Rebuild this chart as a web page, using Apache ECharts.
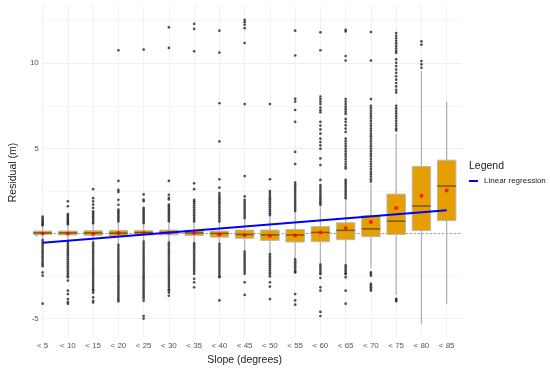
<!DOCTYPE html>
<html>
<head>
<meta charset="utf-8">
<script src="https://cdn.jsdelivr.net/npm/echarts@6/dist/echarts.min.js"></script>
<style>html,body{margin:0;padding:0;background:#fff;}#chart{width:550px;height:371px;}</style>
</head>
<body>
<div id="chart"></div>
<script>
const categories = ['< 5','< 10','< 15','< 20','< 25','< 30','< 35','< 40','< 45','< 50','< 55','< 60','< 65','< 70','< 75','< 80','< 85'];
const whiskerLow = [-0.45,-0.52,-0.6,-0.74,-0.56,-0.6,-0.68,-0.68,-1.12,-1.3,-1.6,-1.92,-1.96,-2.16,-3.76,-5.47,-4.27];
const q1 = [-0.17,-0.2,-0.22,-0.26,-0.19,-0.19,-0.23,-0.33,-0.4,-0.52,-0.62,-0.6,-0.48,-0.3,-0.17,0.06,0.65];
const median = [-0.08,-0.08,-0.08,-0.09,-0.06,-0.05,-0.08,-0.11,-0.17,-0.2,-0.2,-0.05,0.07,0.16,0.62,1.51,2.7];
const q3 = [0.03,0.03,0.05,0.07,0.06,0.09,0.07,0.03,0.09,0.09,0.12,0.3,0.52,0.94,2.22,3.86,4.23];
const whiskerHigh = [0.33,0.4,0.45,0.55,0.43,0.5,0.52,0.55,0.75,0.95,1.18,1.55,1.95,2.8,5.8,9.5,7.67];
const means = [-0.11,-0.11,-0.13,-0.09,-0.09,-0.07,-0.09,-0.17,-0.2,-0.25,-0.23,-0.05,0.2,0.57,1.4,2.12,2.43];

const out5 = [0.88,0.78,0.68,0.6,0.52,0.44,0.37,-0.5,-0.62,-0.74,-0.86,-0.98,-1.1,-1.22,-1.34,-1.46,-1.58,-1.7,-1.82,-1.93,-2.05,-2.42,-2.61,-4.27];
const out10 = [1.79,1.5,1.04,0.95,0.86,0.77,0.68,0.6,0.52,0.44,-0.56,-0.68,-0.8,-0.92,-1.04,-1.16,-1.28,-1.4,-1.52,-1.64,-1.76,-1.88,-2.0,-2.12,-2.24,-2.36,-2.48,-2.6,-2.7,-2.9,-3.5,-3.7,-4.0,-4.17,-4.27];
const out15 = [2.51,1.98,1.79,1.6,1.4,1.2,1.1,1.0,0.9,0.8,0.7,0.6,0.5,-0.65,-0.77,-0.89,-1.01,-1.13,-1.25,-1.37,-1.49,-1.61,-1.73,-1.85,-1.97,-2.09,-2.21,-2.33,-2.45,-2.57,-2.69,-2.81,-2.93,-3.05,-3.17,-3.29,-3.41,-3.5,-3.62,-3.9,-4.1,-4.2];
const out20 = [10.74,3.0,2.47,2.35,1.88,1.59,1.3,1.2,1.1,1.0,0.9,0.8,0.7,0.6,-0.78,-0.9,-1.02,-1.14,-1.26,-1.38,-1.5,-1.62,-1.74,-1.86,-1.98,-2.1,-2.22,-2.34,-2.46,-2.58,-2.7,-2.82,-2.94,-3.06,-3.18,-3.3,-3.42,-3.54,-3.66,-3.78,-3.9,-4.02,-4.12];
const out25 = [10.78,2.2,1.9,1.8,1.4,1.3,1.2,1.1,1.0,0.9,0.8,0.7,0.6,0.5,-0.6,-0.72,-0.84,-0.96,-1.08,-1.2,-1.32,-1.44,-1.56,-1.68,-1.8,-1.92,-2.04,-2.16,-2.28,-2.4,-2.52,-2.64,-2.76,-2.88,-3.0,-3.12,-3.24,-3.36,-3.48,-3.6,-3.72,-3.84,-3.96,-4.1,-5.0,-5.15];
const out30 = [12.1,10.88,3.0,2.18,2.0,1.9,1.6,1.5,1.4,1.3,1.2,1.1,1.0,0.9,0.8,0.7,0.6,-0.65,-0.77,-0.89,-1.01,-1.13,-1.25,-1.37,-1.49,-1.61,-1.73,-1.85,-1.97,-2.09,-2.21,-2.33,-2.45,-2.57,-2.69,-2.81,-2.93,-3.05,-3.17,-3.29,-3.41,-3.5,-3.62,-3.8];
const out35 = [12.3,12.0,10.68,2.86,2.51,1.88,1.79,1.68,1.56,1.44,1.32,1.2,1.08,0.96,0.84,0.72,0.6,-0.7,-0.82,-0.94,-1.06,-1.18,-1.3,-1.42,-1.54,-1.66,-1.78,-1.9,-2.02,-2.14,-2.26,-2.38,-2.5,-2.8,-3.0,-3.3];
const out40 = [11.9,10.6,7.6,5.34,3.1,2.6,2.28,2.16,2.04,1.92,1.8,1.68,1.56,1.44,1.32,1.2,1.08,0.96,0.84,0.72,0.6,-0.72,-0.84,-0.96,-1.08,-1.2,-1.32,-1.44,-1.56,-1.68,-1.8,-1.92,-2.04,-2.16,-2.28,-2.4,-2.52,-2.64,-2.7,-4.08];
const out45 = [12.54,12.4,12.25,12.05,11.17,7.55,3.29,2.08,1.88,1.76,1.64,1.52,1.4,1.28,1.16,1.04,0.92,0.8,-1.18,-1.3,-1.42,-1.54,-1.66,-1.78,-1.9,-2.02,-2.14,-2.26,-2.38,-2.5,-3.0,-3.75];
const out50 = [7.55,3.1,2.4,2.28,2.16,2.04,1.92,1.8,1.68,1.56,1.44,1.32,1.2,1.08,0.98,-1.34,-1.46,-1.58,-1.7,-1.82,-1.94,-2.06,-2.18,-2.3,-2.42,-2.54,-2.66,-3.0,-3.26,-4.0];
const out55 = [11.9,10.43,7.86,7.7,7.2,6.5,4.72,4.0,2.9,2.78,2.66,2.54,2.42,2.3,2.18,2.06,1.94,1.82,1.7,1.58,1.46,1.34,1.22,-1.64,-1.76,-1.88,-2.0,-2.12,-2.24,-2.36,-2.42,-3.7,-4.08,-4.33];
const out60 = [11.8,10.74,8.0,7.85,7.7,7.55,7.35,7.2,7.07,6.5,6.28,6.05,5.8,5.5,5.3,5.1,4.9,4.33,3.94,3.06,2.76,2.64,2.52,2.4,2.28,2.16,2.04,1.92,1.8,1.68,1.59,-1.96,-2.08,-2.2,-2.32,-2.44,-2.52,-2.75,-3.3,-3.5,-4.76,-5.0];
const out65 = [11.95,11.85,10.4,10.13,7.85,7.7,7.55,7.4,7.25,7.1,6.97,6.67,6.5,6.3,6.1,5.9,5.5,5.35,5.2,5.05,4.9,4.75,4.6,4.45,4.3,4.15,4.0,3.85,3.74,3.06,2.94,2.82,2.7,2.58,2.46,2.34,2.22,2.1,1.98,-2.0,-2.12,-2.24,-2.36,-2.48,-2.52,-2.7,-3.5,-4.27];
const out70 = [11.82,10.13,7.85,7.45,7.3,7.15,7.0,6.85,6.7,6.55,6.4,6.25,6.1,5.95,5.8,5.65,5.5,5.35,5.2,5.05,4.9,4.75,4.6,4.45,4.3,4.15,4.0,3.85,3.7,3.55,3.4,3.25,3.1,2.96,-2.42,-2.5,-2.61,-3.1,-3.2,-3.3,-3.4,-3.5];
const out75 = [11.76,11.6,11.45,11.3,11.15,11.0,10.85,10.7,10.59,10.2,10.0,9.8,9.6,9.4,9.2,9.0,8.8,8.6,8.4,8.24,7.45,7.3,7.15,7.0,6.85,6.7,6.55,6.4,6.25,6.1,5.99,-3.98,-4.05,-4.12];
const out80 = [11.27,11.07,10.1,9.9,9.7];
const out85 = [];

const regressionStart = -0.66;
const regressionEnd = 1.26;

const yMin = -6.25, yMax = 13.42;

const outlierGroups = [out5,out10,out15,out20,out25,out30,out35,out40,out45,out50,out55,out60,out65,out70,out75,out80,out85];
const outlierData = [];
outlierGroups.forEach((arr, i) => arr.forEach(v => outlierData.push([i, v])));
const boxData = categories.map((c, i) => [i, whiskerLow[i], q1[i], median[i], q3[i], whiskerHigh[i]]);
const meanData = categories.map((c, i) => [i, means[i]]);

const chart = echarts.init(document.getElementById('chart'), null, {renderer: 'canvas'});
const FONT = 'Liberation Sans, Arial, sans-serif';
const transparent = 'rgba(0,0,0,0)';

chart.setOption({
  animation: false,
  backgroundColor: '#ffffff',
  textStyle: {fontFamily: FONT},
  title: {
    text: 'Legend', left: 469, top: 161, padding: 0,
    textStyle: {fontSize: 10.5, fontWeight: 'normal', color: '#1a1a1a', fontFamily: FONT}
  },
  legend: {
    left: 469, top: 177, padding: 0, itemWidth: 9, itemHeight: 2, itemGap: 4,
    data: [{name: 'Linear regression', icon: 'rect'}],
    itemStyle: {color: '#0000ff'},
    textStyle: {fontSize: 8, color: '#1a1a1a', fontFamily: FONT, padding: [0, 0, 0, 1]}
  },
  grid: [
    {left: 30, right: 90.7, top: 5, bottom: 31},
    {left: 27.5, right: 88, top: 5, bottom: 31}
  ],
  xAxis: [
    {
      type: 'category', gridIndex: 0, data: categories, boundaryGap: true,
      axisLine: {show: false}, axisTick: {show: false}, splitLine: {show: false},
      axisLabel: {fontSize: 8, color: '#555', margin: 5, interval: 0, fontFamily: FONT},
      name: 'Slope (degrees)', nameLocation: 'middle', nameGap: 14,
      nameTextStyle: {fontSize: 10.5, color: '#222', fontFamily: FONT}
    },
    {
      type: 'value', gridIndex: 0, min: -0.5, max: 16.5, interval: 0.5,
      axisLine: {show: false}, axisTick: {show: false}, axisLabel: {show: false},
      splitLine: {show: true, lineStyle: {color: [transparent, '#ebebeb'], width: 0.7}}
    },
    {type: 'value', gridIndex: 1, min: 0, max: 1, show: false}
  ],
  yAxis: [
    {type: 'value', gridIndex: 0, min: yMin, max: yMax, show: false, splitLine: {show: false}},
    {
      type: 'value', gridIndex: 1, min: yMin, max: yMax, interval: 1.25,
      axisLine: {show: false}, axisTick: {show: false},
      axisLabel: {
        fontSize: 8, color: '#555', margin: 3, fontFamily: FONT,
        formatter: v => (Math.abs(v % 5) < 1e-6 ? String(Math.round(v)) : '')
      },
      splitLine: {show: true, lineStyle: {color: [transparent, '#e8e8e8', transparent, '#f2f2f2'], width: 0.7}},
      name: 'Residual (m)', nameLocation: 'middle', nameGap: 14,
      nameTextStyle: {fontSize: 10.5, color: '#222', fontFamily: FONT}
    }
  ],
  series: [
    {
      type: 'line', xAxisIndex: 2, yAxisIndex: 1, data: [], silent: true,
      markLine: {
        silent: true, z: 1, symbol: ['none', 'none'], label: {show: false},
        lineStyle: {color: '#808080', type: [2, 2], width: 0.8},
        data: [{yAxis: 0}]
      }
    },
    {
      type: 'custom', xAxisIndex: 0, yAxisIndex: 0, z: 3, silent: true,
      data: boxData,
      encode: {x: 0, y: [1, 2, 3, 4, 5]},
      renderItem: function (params, api) {
        const x = api.value(0);
        const pLow = api.coord([x, api.value(1)]);
        const pQ1 = api.coord([x, api.value(2)]);
        const pMed = api.coord([x, api.value(3)]);
        const pQ3 = api.coord([x, api.value(4)]);
        const pHigh = api.coord([x, api.value(5)]);
        const bw = api.size([1, 0])[0] * 0.73;
        const cx = pMed[0];
        return {
          type: 'group',
          children: [
            {type: 'line', shape: {x1: cx, y1: pLow[1], x2: cx, y2: pQ1[1]}, style: {stroke: '#b3b3b3', lineWidth: 1.3}},
            {type: 'line', shape: {x1: cx, y1: pQ3[1], x2: cx, y2: pHigh[1]}, style: {stroke: '#b3b3b3', lineWidth: 1.3}},
            {type: 'rect', shape: {x: cx - bw / 2, y: pQ3[1], width: bw, height: Math.max(pQ1[1] - pQ3[1], 1)},
              style: {fill: '#E69F00', stroke: '#b8b8b8', lineWidth: 1}},
            {type: 'line', shape: {x1: cx - bw / 2, y1: pMed[1], x2: cx + bw / 2, y2: pMed[1]}, style: {stroke: '#6b5614', lineWidth: 1.4}}
          ]
        };
      }
    },
    {
      type: 'scatter', xAxisIndex: 0, yAxisIndex: 0, z: 4, silent: true,
      data: outlierData, symbol: 'circle', symbolSize: 2.7,
      itemStyle: {color: '#262626'}
    },
    {
      type: 'scatter', xAxisIndex: 0, yAxisIndex: 0, z: 5, silent: true,
      data: meanData, symbol: 'circle', symbolSize: 4,
      itemStyle: {color: '#ff0000'}
    },
    {
      name: 'Linear regression', type: 'line', xAxisIndex: 0, yAxisIndex: 0, z: 6,
      data: [[0, regressionStart], [categories.length - 1, regressionEnd]],
      symbol: 'none', lineStyle: {color: '#0000ff', width: 2}, itemStyle: {color: '#0000ff'}
    }
  ]
});
</script>
</body>
</html>
